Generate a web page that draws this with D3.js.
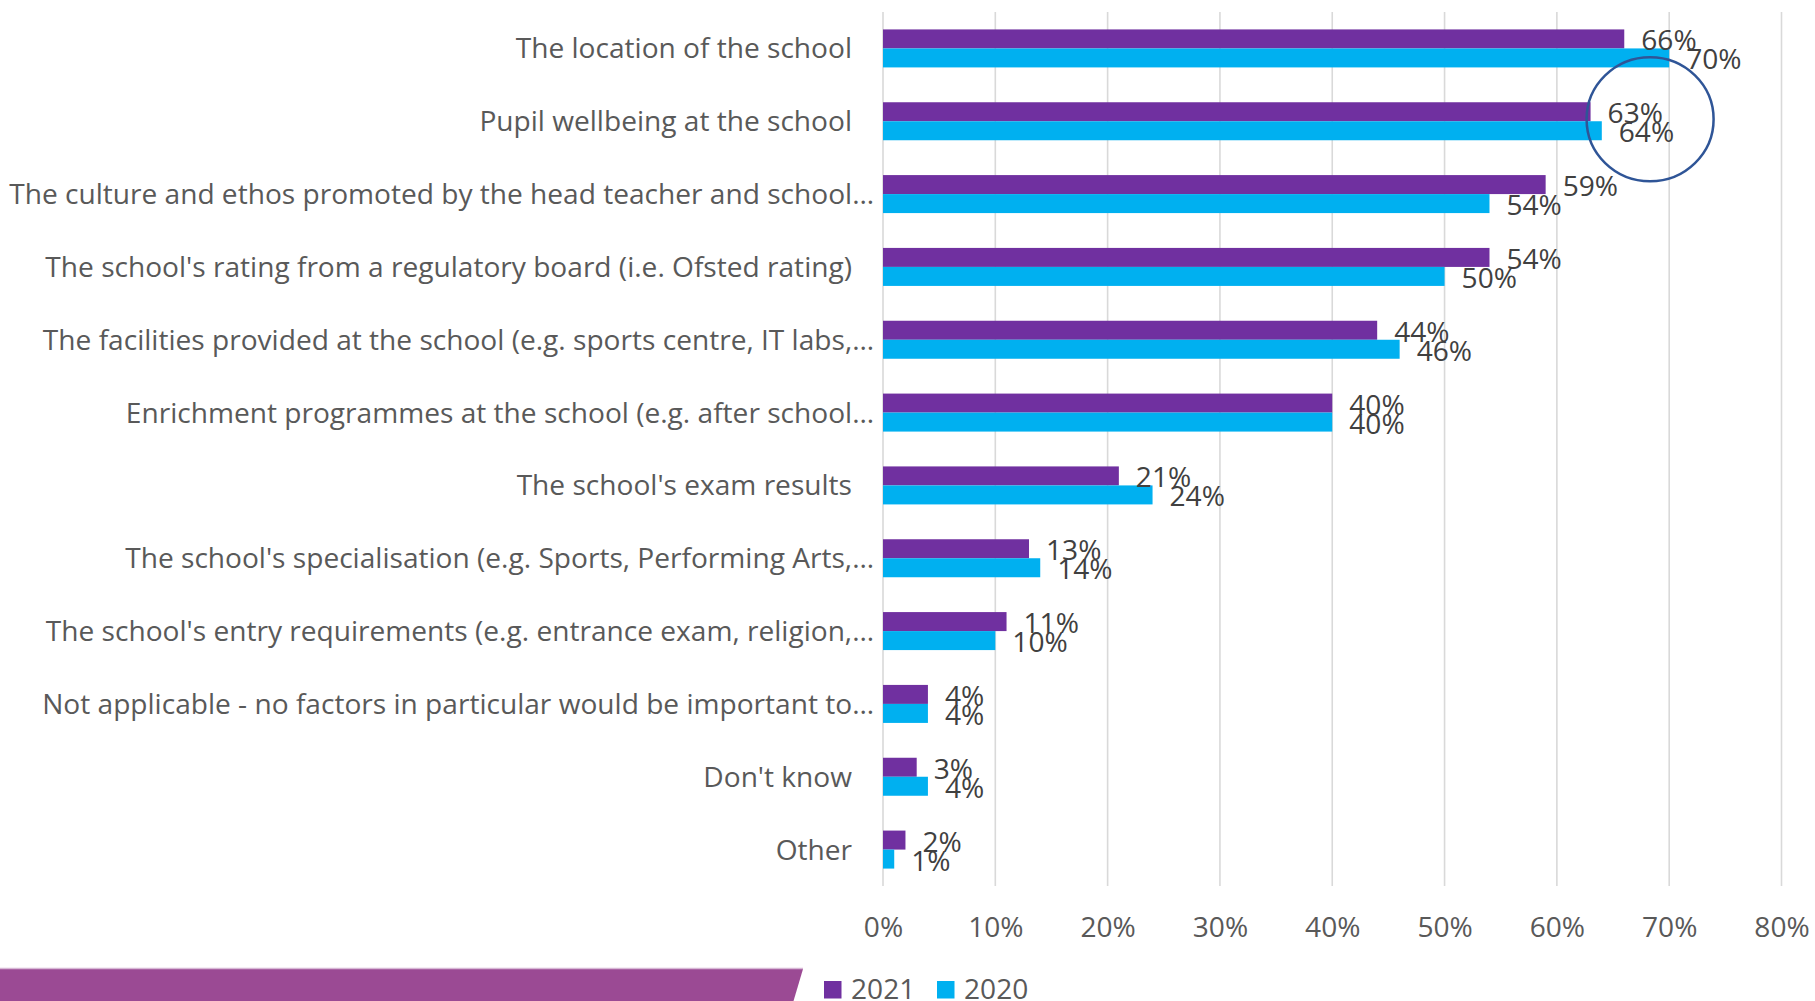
<!DOCTYPE html>
<html>
<head>
<meta charset="utf-8">
<script src="https://cdn.jsdelivr.net/npm/d3@7"></script>
<style>
  html, body { margin: 0; padding: 0; background: #ffffff; }
  svg { display: block; }
  text { font-family: "Open Sans", Lato, sans-serif; }
</style>
</head>
<body>
<svg id="chart" width="1815" height="1001"></svg>
<script>
// Factors parents consider when choosing a school, 2021 vs 2020
const categories = [
  "The location of the school",
  "Pupil wellbeing at the school",
  "The culture and ethos promoted by the head teacher and school…",
  "The school's rating from a regulatory board (i.e. Ofsted rating)",
  "The facilities provided at the school (e.g. sports centre, IT labs,…",
  "Enrichment programmes at the school (e.g. after school…",
  "The school's exam results",
  "The school's specialisation (e.g. Sports, Performing Arts,…",
  "The school's entry requirements (e.g. entrance exam, religion,…",
  "Not applicable - no factors in particular would be important to…",
  "Don't know",
  "Other"
];
const values2021 = [0.66, 0.63, 0.59, 0.54, 0.44, 0.40, 0.21, 0.13, 0.11, 0.04, 0.03, 0.02];
const values2020 = [0.70, 0.64, 0.54, 0.50, 0.46, 0.40, 0.24, 0.14, 0.10, 0.04, 0.04, 0.01];
const seriesNames = ["2021", "2020"];
const seriesColors = ["#7030A0", "#00B0F0"];
const tickValues = [0, 0.1, 0.2, 0.3, 0.4, 0.5, 0.6, 0.7, 0.8];
const highlighted = "Pupil wellbeing at the school";

const svg = d3.select("#chart");
const fontSize = 28.1;

const x = d3.scaleLinear().domain([0, 0.8]).range([883, 1781.5]);
const y = d3.scaleBand().domain(categories).range([12, 886]).paddingInner(0).paddingOuter(0);
const inner = d3.scaleBand().domain(seriesNames).range([0, 38]);
const groupOffset = (y.bandwidth() - 38) / 2;

const rows = categories.map((c, i) => ({ cat: c, vals: [values2021[i], values2020[i]] }));
const pct = d3.format(".0%");

// vertical gridlines (including the 0% axis line)
svg.append("g")
  .selectAll("line")
  .data(tickValues)
  .join("line")
  .attr("x1", d => x(d)).attr("x2", d => x(d))
  .attr("y1", y.range()[0]).attr("y2", y.range()[1])
  .attr("stroke", "#D9D9D9")
  .attr("stroke-width", 1.6);

// x tick labels
const xAxis = d3.axisBottom(x).tickValues(tickValues).tickFormat(pct).tickSize(0).tickPadding(0);
const gx = svg.append("g").attr("transform", "translate(0,937)").call(xAxis);
gx.select(".domain").remove();
gx.selectAll("text")
  .attr("y", 0).attr("dy", 0)
  .attr("fill", "#595959")
  .style("font-size", fontSize + "px")
  .style("font-family", null);

// category labels
svg.append("g")
  .selectAll("text")
  .data(categories)
  .join("text")
  .attr("x", d => d.endsWith("…") ? 874 : 852)
  .attr("y", d => y(d) + y.bandwidth() / 2 + 10)
  .attr("text-anchor", "end")
  .attr("fill", "#595959")
  .style("font-size", fontSize + "px")
  .text(d => d);

// bars
const groups = svg.append("g")
  .selectAll("g")
  .data(rows)
  .join("g")
  .attr("transform", d => `translate(0,${y(d.cat) + groupOffset})`);

groups.selectAll("rect")
  .data(d => d.vals.map((v, j) => ({ v, s: seriesNames[j], j })))
  .join("rect")
  .attr("x", x(0))
  .attr("y", d => inner(d.s))
  .attr("width", d => x(d.v) - x(0))
  .attr("height", inner.bandwidth())
  .attr("fill", d => seriesColors[d.j]);

// value labels
groups.selectAll("text")
  .data(d => d.vals.map((v, j) => ({ v, s: seriesNames[j] })))
  .join("text")
  .attr("x", d => x(d.v) + 17)
  .attr("y", d => inner(d.s) + inner.bandwidth() / 2 + 11.5)
  .attr("fill", "#404040")
  .style("font-size", fontSize + "px")
  .text(d => pct(d.v));

// highlight ring around the wellbeing labels
svg.append("ellipse")
  .attr("cx", x(0.683))
  .attr("cy", y(highlighted) + y.bandwidth() / 2 - 2)
  .attr("rx", 63.5)
  .attr("ry", 62)
  .attr("fill", "none")
  .attr("stroke", "#2F5597")
  .attr("stroke-width", 2.5);

// footer band
svg.append("polygon")
  .attr("points", "0,969 803,969 793.5,1001 0,1001")
  .attr("fill", "#9B4A94");
svg.append("line")
  .attr("x1", 0).attr("x2", 803).attr("y1", 968.5).attr("y2", 968.5)
  .attr("stroke", "#D7B7D5").attr("stroke-width", 1.5);

// legend
const legendX = [824, 937];
const legend = svg.append("g")
  .selectAll("g")
  .data(seriesNames)
  .join("g")
  .attr("transform", (d, i) => `translate(${legendX[i]},981)`);
legend.append("rect")
  .attr("width", 17.5).attr("height", 17.5)
  .attr("fill", (d, i) => seriesColors[i]);
legend.append("text")
  .attr("x", 27).attr("y", 17.7)
  .attr("fill", "#595959")
  .style("font-size", fontSize + "px")
  .text(d => d);
</script>
</body>
</html>
